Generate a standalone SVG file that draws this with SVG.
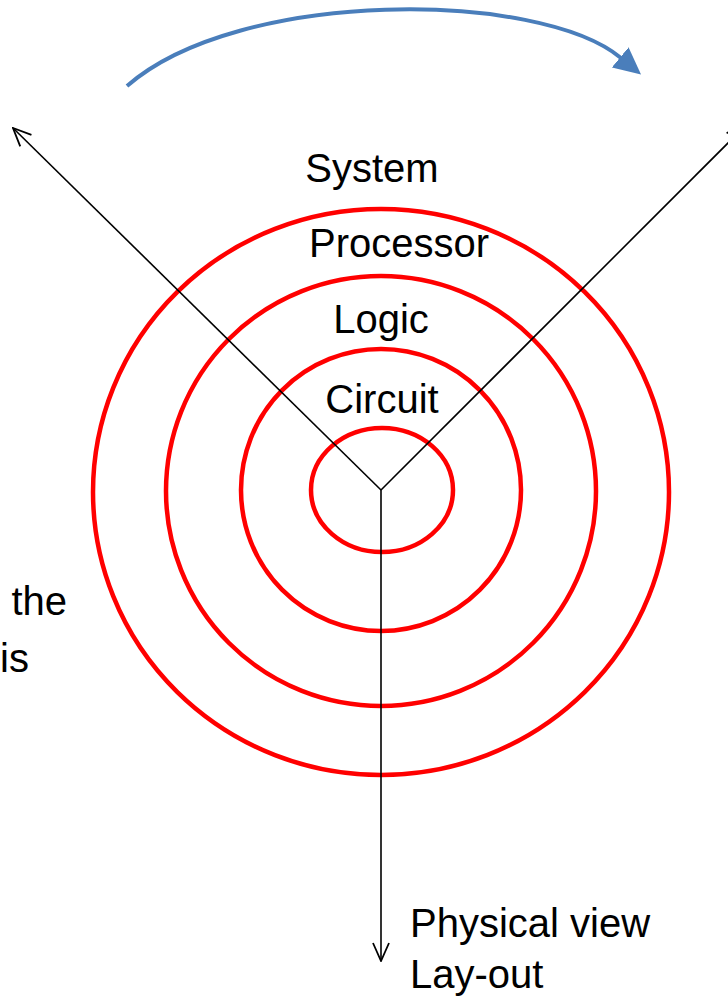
<svg xmlns="http://www.w3.org/2000/svg" width="728" height="1003" viewBox="0 0 728 1003">
<style>
.ring{fill:none;stroke:#FF0000;stroke-width:4.5}
.axis{fill:none;stroke:#000;stroke-width:1.6}
.lbl{font-family:"Liberation Sans",Arial,sans-serif;font-size:40px;fill:#000}
</style>
<defs>
<marker id="open" viewBox="0 0 20 20" refX="19" refY="10" markerWidth="20" markerHeight="20" markerUnits="userSpaceOnUse" orient="auto">
<path d="M1,2 L19,10 L1,18" fill="none" stroke="#000" stroke-width="1.8"/>
</marker>
<marker id="blue" viewBox="0 0 27 28" refX="1" refY="14" markerWidth="27" markerHeight="28" markerUnits="userSpaceOnUse" orient="auto">
<path d="M0,1 L27,14 L0,27 Z" fill="#4A7EBB"/>
</marker>
</defs>
<g id="rings">
<ellipse id="ring-system" class="ring" cx="381" cy="492" rx="288" ry="283"/>
<ellipse id="ring-processor" class="ring" cx="381" cy="491" rx="215" ry="215"/>
<ellipse id="ring-logic" class="ring" cx="381" cy="490" rx="140" ry="141"/>
<ellipse id="ring-circuit" class="ring" cx="382" cy="490" rx="71" ry="62"/>
</g>
<g id="connectors">
<line class="axis" x1="381" y1="490" x2="13" y2="128" marker-end="url(#open)"/>
<line class="axis" x1="381" y1="490" x2="745" y2="126" marker-end="url(#open)"/>
<line class="axis" x1="381" y1="490" x2="381" y2="961" marker-end="url(#open)"/>
<path d="M127,86 C239,-12 539,-10 621,58" fill="none" stroke="#4A7EBB" stroke-width="4" marker-end="url(#blue)"/>
</g>
<g id="labels">
<text class="lbl" x="372" y="182" text-anchor="middle">System</text>
<text class="lbl" x="399" y="257" text-anchor="middle">Processor</text>
<text class="lbl" x="381" y="333" text-anchor="middle">Logic</text>
<text class="lbl" x="382" y="413" text-anchor="middle">Circuit</text>
<text class="lbl" x="410" y="937">Physical view</text>
<text class="lbl" x="410" y="988">Lay-out</text>
<text class="lbl" x="67" y="615" text-anchor="end">the</text>
<text class="lbl" x="0" y="672">is</text>
</g>
</svg>
